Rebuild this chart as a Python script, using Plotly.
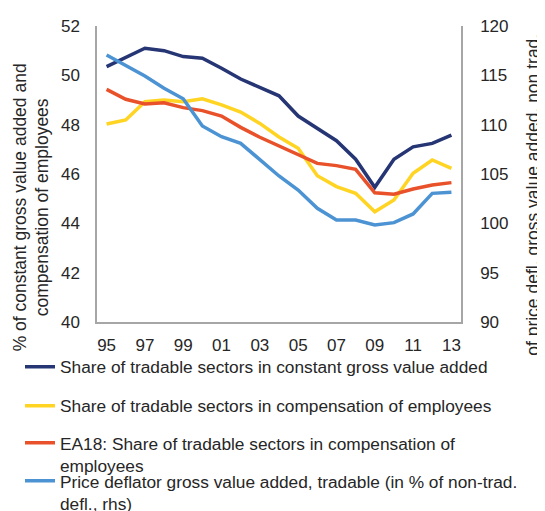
import plotly.graph_objects as go

# years 1995-2013
years = list(range(1995, 2014))
tick_years = list(range(1995, 2014, 2))
tick_labels = ["95", "97", "99", "01", "03", "05", "07", "09", "11", "13"]

# left axis series (% of constant GVA / compensation of employees)
share_gva = [50.35, 50.73, 51.1, 51.0, 50.76, 50.69, 50.29, 49.85, 49.51, 49.17,
             48.35, 47.85, 47.35, 46.6, 45.46, 46.6, 47.1, 47.24, 47.58]
share_comp = [48.03, 48.19, 48.93, 49.0, 48.93, 49.05, 48.8, 48.51, 48.05, 47.5,
              47.04, 45.93, 45.49, 45.22, 44.47, 44.95, 46.03, 46.57, 46.23]
ea18_comp = [49.43, 49.03, 48.84, 48.89, 48.69, 48.57, 48.35, 47.89, 47.49, 47.14,
             46.77, 46.43, 46.34, 46.19, 45.24, 45.18, 45.39, 45.55, 45.65]
# right axis series (price deflator, tradable in % of non-tradable)
deflator = [117.06, 115.98, 114.93, 113.69, 112.63, 109.87, 108.78, 108.11, 106.49, 104.8,
            103.38, 101.52, 100.34, 100.34, 99.83, 100.07, 100.95, 103.04, 103.14]

names = [
    "Share of tradable sectors in constant gross value added",
    "Share of tradable sectors in compensation of employees",
    "EA18: Share of tradable sectors in compensation of<br>employees",
    "Price deflator gross value added, tradable (in % of non-trad.<br>defl., rhs)",
]
colors = ["#263574", "#FFD422", "#E8512A", "#4C93D3"]

FONT = "Liberation Sans, Arial, sans-serif"
TXT = "#262626"
AXC = "#A6A6A6"

# page has an 8px body margin, so the figure is 8px smaller each way
W, H = 537, 503

legend_ids = ["legend", "legend2", "legend3", "legend4"]
legend_tops = [341, 380, 417, 455]  # px from top of figure

fig = go.Figure()
for i, (vals, name, col) in enumerate(zip([share_gva, share_comp, ea18_comp], names[:3], colors[:3])):
    fig.add_trace(go.Scatter(x=years, y=vals, name=name, mode="lines",
                             line=dict(color=col, width=3.5), legend=legend_ids[i]))
fig.add_trace(go.Scatter(x=years, y=deflator, name=names[3], mode="lines", yaxis="y2",
                         line=dict(color=colors[3], width=3.5), legend=legend_ids[3]))

legends = {}
for lid, top in zip(legend_ids, legend_tops):
    legends[lid] = dict(xref="container", yref="container", x=12 / W, y=1 - top / H,
                        xanchor="left", yanchor="top", valign="top",
                        font=dict(size=17.3, color=TXT), bgcolor="rgba(255,255,255,0)")

fig.update_layout(
    width=W, height=H,
    margin=dict(l=89, r=84, t=18, b=189, autoexpand=False),
    plot_bgcolor="white", paper_bgcolor="white",
    font=dict(family=FONT, size=17, color=TXT),
    showlegend=True,
    xaxis=dict(range=[1994.5, 2013.5], tickvals=tick_years, ticktext=tick_labels,
               showline=True, linecolor=AXC, linewidth=1.5, showgrid=False,
               ticks="", ticklabelstandoff=7, zeroline=False, automargin=False),
    yaxis=dict(range=[40, 52], dtick=2, showline=True, linecolor=AXC, linewidth=1.5,
               showgrid=False, ticks="", ticklabelstandoff=12, zeroline=False,
               automargin=False),
    yaxis2=dict(range=[90, 120], dtick=5, overlaying="y", side="right",
                showline=True, linecolor=AXC, linewidth=1.5, showgrid=False,
                ticks="", ticklabelstandoff=14, zeroline=False, automargin=False),
    annotations=[
        dict(text="% of constant gross value added and<br>compensation of employees",
             xref="paper", yref="paper", x=-0.18, y=0.389, xanchor="center",
             yanchor="middle", textangle=-90, showarrow=False,
             font=dict(size=17.5, color=TXT)),
        dict(text="of price defl. gross value added, non trad.",
             xref="paper", yref="paper", x=1.198, y=0.43, xanchor="center",
             yanchor="middle", textangle=-90, showarrow=False,
             font=dict(size=17.5, color=TXT)),
    ],
    **legends,
)

fig.write_html("out.html")
